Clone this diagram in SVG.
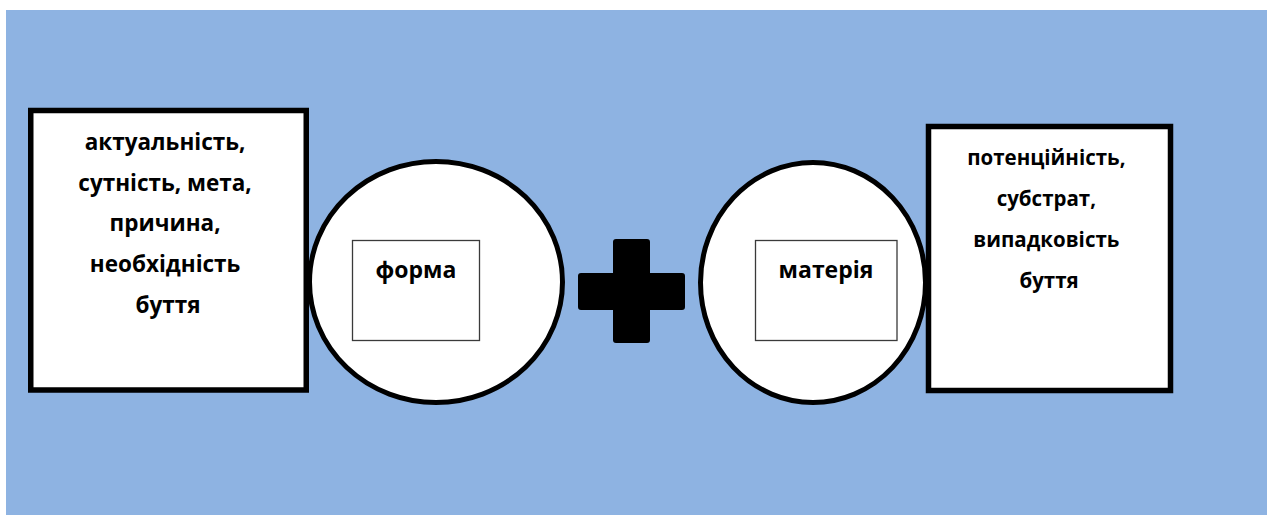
<svg xmlns="http://www.w3.org/2000/svg" width="1267" height="515" viewBox="0 0 1267 515">
  <style>
    .box { fill: #ffffff; stroke: #000000; stroke-width: 5.5; }
    .oval { fill: #ffffff; stroke: #000000; stroke-width: 5; }
    .inner { fill: #ffffff; stroke: #3a3a3a; stroke-width: 1.3; }
    .t { font-family: "Open Sans", "Noto Sans", "DejaVu Sans", sans-serif; font-weight: 700; fill: #000000; text-anchor: middle; }
    .big { font-size: 22.5px; }
    .lbl { font-size: 23px; }
    .mid { font-size: 20.5px; }
  </style>
  <rect x="0" y="0" width="1267" height="515" fill="#ffffff"/>
  <rect x="6" y="10" width="1261" height="505" fill="#8EB3E2"/>

  <g id="circle-forma">
    <ellipse class="oval" cx="436" cy="282" rx="126.5" ry="120.5"/>
    <rect class="inner" x="352.5" y="240.5" width="127" height="100"/>
    <text class="t lbl" x="416" y="278">форма</text>
  </g>

  <g id="box-left">
    <rect class="box" x="30.75" y="110.5" width="275.5" height="279.5"/>
    <text class="t big">
      <tspan x="168" y="150">актуальність,</tspan>
      <tspan x="168" y="191">сутність, мета,</tspan>
      <tspan x="168" y="231">причина,</tspan>
      <tspan x="168" y="272">необхідність</tspan>
      <tspan x="168" y="313">буття</tspan>
    </text>
  </g>

  <g id="plus">
    <path d="M616 239 H647 Q650 239 650 242 V273 H682 Q685 273 685 276 V307 Q685 310 682 310 H650 V340 Q650 343 647 343 H616 Q613 343 613 340 V310 H581 Q578 310 578 307 V276 Q578 273 581 273 H613 V242 Q613 239 616 239 Z" fill="#000000"/>
  </g>

  <g id="circle-materiya">
    <ellipse class="oval" cx="813" cy="282.5" rx="112.5" ry="120"/>
    <rect class="inner" x="755.5" y="240.5" width="141.5" height="100"/>
    <text class="t lbl" x="826" y="278">матерія</text>
  </g>

  <g id="box-right">
    <rect class="box" x="928.5" y="126.5" width="242" height="264"/>
    <text class="t mid">
      <tspan x="1049" y="165">потенційність,</tspan>
      <tspan x="1049" y="206">субстрат,</tspan>
      <tspan x="1049" y="247">випадковість</tspan>
      <tspan x="1049" y="288">буття</tspan>
    </text>
  </g>

  <g id="connectors"></g>
</svg>
